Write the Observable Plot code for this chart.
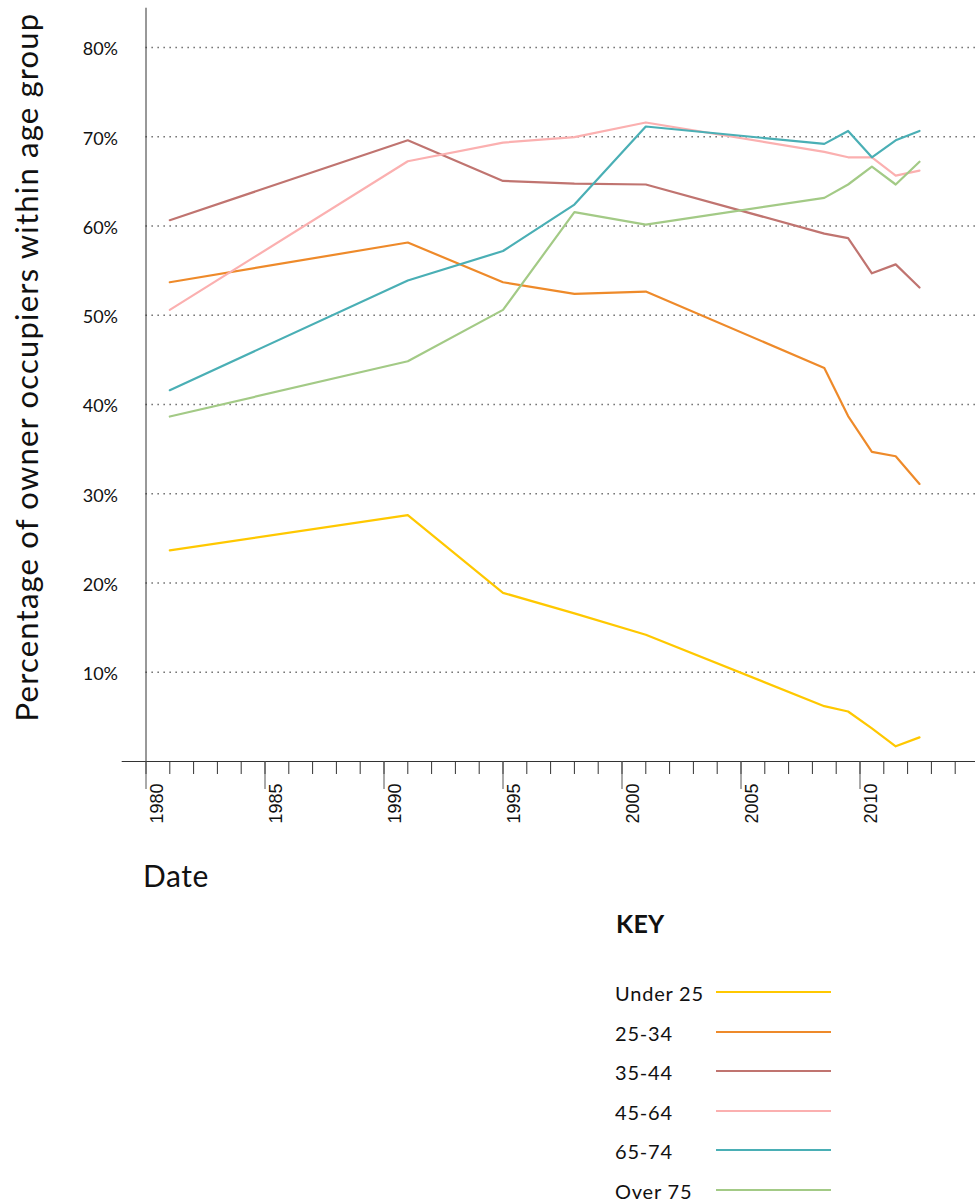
<!DOCTYPE html>
<html><head><meta charset="utf-8">
<script src="https://cdn.jsdelivr.net/npm/d3@7"></script>
<script src="https://cdn.jsdelivr.net/npm/@observablehq/plot@0.6"></script>
<style>
body{margin:0;background:#fff;font-family:Lato,sans-serif;color:#111;}
#wrap{position:relative;width:975px;height:1204px;overflow:hidden;}
#chart{position:absolute;left:0;top:0;}
#date{position:absolute;left:143px;top:856px;font-size:30px;line-height:38px;letter-spacing:0.6px;}
#key{position:absolute;left:616px;top:908px;font-size:25px;font-weight:bold;line-height:30px;letter-spacing:0.3px;}
.item{position:absolute;left:615px;font-size:20px;line-height:24px;letter-spacing:0.8px;}
.swatch{position:absolute;left:716px;width:115px;height:2px;}
.ytitle text{letter-spacing:1.2px;}
</style></head><body><div id="wrap"><div id="chart"></div>
<div id="date">Date</div>
<div id="key">KEY</div>
<div id="legend"></div></div>
<script>
const years = [1981, 1991, 1995, 1998, 2001, 2008.5, 2009.5, 2010.5, 2011.5, 2012.5];
const groups = ["Under 25", "25-34", "35-44", "45-64", "65-74", "Over 75"];
const colors = ["#FFC800", "#EE8A2A", "#C07470", "#FBB0B0", "#4AAFB5", "#A3CA86"];
const under25 = [23.65, 27.6, 18.9, 16.6, 14.2, 6.2, 5.6, 3.7, 1.7, 2.7];
const age25to34 = [53.7, 58.15, 53.7, 52.4, 52.65, 44.1, 38.7, 34.7, 34.2, 31.1];
const age35to44 = [60.65, 69.6, 65.05, 64.75, 64.65, 59.15, 58.65, 54.7, 55.7, 53.1];
const age45to64 = [50.6, 67.25, 69.35, 69.95, 71.6, 68.3, 67.7, 67.7, 65.65, 66.2];
const age65to74 = [41.6, 53.9, 57.2, 62.4, 71.15, 69.2, 70.65, 67.7, 69.6, 70.65];
const over75 = [38.65, 44.85, 50.6, 61.55, 60.15, 63.15, 64.65, 66.65, 64.65, 67.2];
const yTicks = [10, 20, 30, 40, 50, 60, 70, 80];
const majorYears = [1980, 1985, 1990, 1995, 2000, 2005, 2010];
const allYears = d3.range(1980, 2015);
const yTitle = "Percentage of owner occupiers within age group";

const seriesValues = [under25, age25to34, age35to44, age45to64, age65to74, over75];
const rows = [];
groups.forEach((g, i) => years.forEach((yr, j) => rows.push({group: g, year: yr, value: seriesValues[i][j]})));

const chart = Plot.plot({
  width: 975, height: 850,
  marginTop: 0, marginLeft: 0, marginRight: 0, marginBottom: 89,
  style: {background: "transparent", overflow: "visible"},
  x: {type: "linear", domain: [1979, 2015], range: [121.7, 978.5], axis: null, label: null},
  y: {domain: [0, 80], range: [761, 47], axis: null, label: null},
  color: {domain: groups, range: colors},
  marks: [
    Plot.ruleY(yTicks, {x1: 1980, x2: 2015, stroke: "#555", strokeWidth: 1.3, strokeDasharray: "1.3,4.7"}),
    Plot.ruleX([1980], {y1: 0, y2: 84.4, stroke: "#333", strokeWidth: 1}),
    Plot.ruleY([0], {x1: 1979, x2: 2015, stroke: "#333", strokeWidth: 1}),
    Plot.axisX(allYears, {tickSize: 13, tickFormat: () => "", label: null, stroke: "#333", strokeWidth: 1}),
    Plot.axisX(majorYears, {tickSize: 28, tickFormat: () => "", label: null, stroke: "#555", strokeWidth: 1}),
    Plot.text(majorYears, {x: d => d, y: () => 0, text: d => String(d), dx: 11.5, dy: 22, rotate: -90, textAnchor: "end", lineAnchor: "middle", fontSize: 18, fontFamily: "Liberation Sans", fill: "#111"}),
    Plot.text(yTicks, {x: () => 1980, y: d => d, text: d => d + "%", dx: -28, dy: 2, textAnchor: "end", fontSize: 18, fontFamily: "Lato", fill: "#111"}),
    Plot.text([yTitle], {className: "ytitle", frameAnchor: "left", dx: 28, dy: -14, rotate: -90, textAnchor: "middle", text: d => d, fontSize: 31, fontFamily: "Lato", fill: "#111"}),
    Plot.lineY(rows, {x: "year", y: "value", z: "group", stroke: "group", strokeWidth: 2.2})
  ]
});
document.getElementById("chart").appendChild(chart);

const legend = document.getElementById("legend");
groups.forEach((g, i) => {
  const t = document.createElement("div");
  t.className = "item"; t.textContent = g; t.style.top = (981 + i * 39.6) + "px";
  legend.appendChild(t);
  const s = document.createElement("div");
  s.className = "swatch"; s.style.background = colors[i]; s.style.top = (991 + i * 39.6) + "px";
  legend.appendChild(s);
});
</script></body></html>
